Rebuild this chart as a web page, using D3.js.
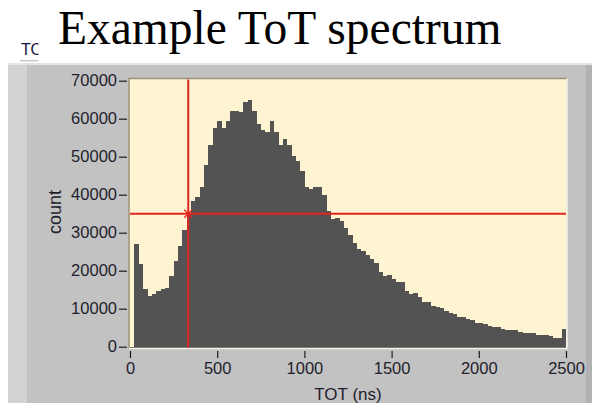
<!DOCTYPE html>
<html>
<head>
<meta charset="utf-8">
<script src="https://cdn.jsdelivr.net/npm/d3@7"></script>
<style>
  html, body { margin: 0; padding: 0; background: #fff; }
  svg { display: block; }
</style>
</head>
<body>
<div id="chart"></div>
<script>
// histogram of TOT values, 25 ns bins from 0 to 2500
var binWidth = 25;
var counts = [
  0, 26950, 21760, 15260, 13420, 13780, 14570, 15100, 15450, 18520,
  22470, 26500, 30800, 35100, 38340, 39470, 41940, 47740, 53000, 57630,
  59400, 57630, 59470, 62030, 62030, 61680, 64310, 64840, 62030, 58520,
  57030, 56500, 59310, 56500, 53000, 54580, 53000, 50180, 48950, 46320,
  42110, 41420, 41950, 41950, 39840, 35630, 33610, 33950, 33160, 31150,
  29310, 27210, 25630, 25260, 24050, 23160, 22110, 19660, 18600, 18950,
  17740, 16950, 16950, 14580, 13790, 14210, 13000, 11760, 11760, 10710,
  10450, 10100, 9390, 8790, 8690, 7900, 7900, 7370, 6930, 6320,
  6320, 5880, 5450, 5100, 5100, 4660, 4300, 4300, 4300, 3950,
  3600, 3600, 3600, 3080, 3080, 3080, 2720, 2370, 2370, 4740
];
var xTicks = [0, 500, 1000, 1500, 2000, 2500];
var yTicks = [0, 10000, 20000, 30000, 40000, 50000, 60000, 70000];
// cursor position (ns, count)
var cursor = { x: 334, y: 35000 };

var width = 592, height = 403;
var svg = d3.select("#chart").append("svg")
  .attr("width", width)
  .attr("height", height);

var x = d3.scaleLinear().domain([0, 2500]).range([130, 566]);
var y = d3.scaleLinear().domain([0, 70000]).range([346.7, 80.7]);

//title
svg.append("text")
  .attr("x", 58)
  .attr("y", 43.5)
  .attr("font-family", "Liberation Serif, Times New Roman, serif")
  .attr("font-size", 47.5)
  .attr("fill", "#000")
  .text("Example ToT spectrum");

//graph label, cut off by the title box
svg.append("clipPath").attr("id", "lblclip")
  .append("rect").attr("x", 0).attr("y", 30).attr("width", 38.5).attr("height", 40);
svg.append("text")
  .attr("x", 21)
  .attr("y", 55)
  .attr("clip-path", "url(#lblclip)")
  .attr("font-family", "Liberation Sans, Arial, sans-serif")
  .attr("font-size", 16)
  .attr("fill", "#14143c")
  .text("TO");
svg.append("rect")
  .attr("x", 20).attr("y", 60).attr("width", 18.5).attr("height", 1.5)
  .attr("fill", "#c8c8c8");

//outer gray panel
svg.append("rect")
  .attr("x", 8).attr("y", 63).attr("width", 584).attr("height", 340)
  .attr("fill", "#c2c2c2");
svg.append("rect")
  .attr("x", 8).attr("y", 63).attr("width", 584).attr("height", 2)
  .attr("fill", "#e4e4e4");
svg.append("rect")
  .attr("x", 8).attr("y", 65).attr("width", 19).attr("height", 338)
  .attr("fill", "#d2d2d2");
svg.append("rect")
  .attr("x", 586).attr("y", 65).attr("width", 6).attr("height", 338)
  .attr("fill", "#b2b2b2");

//plot area
var plot = { x0: 129, x1: 567, y0: 78.5, y1: 348.5 };
svg.append("rect")
  .attr("x", plot.x0).attr("y", plot.y0)
  .attr("width", plot.x1 - plot.x0).attr("height", plot.y1 - plot.y0)
  .attr("fill", "#fef4d2");

//bars
svg.append("g")
  .selectAll("rect")
  .data(counts)
  .join("rect")
  .attr("x", (d, i) => x(i * binWidth))
  .attr("width", (d, i) => x((i + 1) * binWidth) - x(i * binWidth) + 0.3)
  .attr("y", (d) => y(d))
  .attr("height", (d) => y(0) - y(d) + 1.5)
  .attr("fill", "#535353")
  .attr("shape-rendering", "crispEdges");

//sunken border of plot area
svg.append("path")
  .attr("d", `M${plot.x0},${plot.y1}V${plot.y0}H${plot.x1}`)
  .attr("fill", "none").attr("stroke", "#9a927a").attr("stroke-width", 1.5);
svg.append("path")
  .attr("d", `M${plot.x0},${plot.y1}H${plot.x1}V${plot.y0}`)
  .attr("fill", "none").attr("stroke", "#f6f2e6").attr("stroke-width", 1.5);

//cursor
var cx = x(cursor.x), cy = y(cursor.y);
svg.append("line")
  .attr("x1", cx).attr("x2", cx).attr("y1", plot.y0 + 1).attr("y2", plot.y1 - 1)
  .attr("stroke", "#e2261e").attr("stroke-width", 2);
svg.append("line")
  .attr("x1", plot.x0 + 1).attr("x2", plot.x1 - 1).attr("y1", cy).attr("y2", cy)
  .attr("stroke", "#e2261e").attr("stroke-width", 2);
svg.append("path")
  .attr("d", `M${cx - 4},${cy - 4}L${cx + 4},${cy + 4}M${cx - 4},${cy + 4}L${cx + 4},${cy - 4}`)
  .attr("stroke", "#e2261e").attr("stroke-width", 1.3);

//axes
var tickFont = "Liberation Sans, Arial, sans-serif";
var yAxis = svg.append("g")
  .attr("transform", "translate(127,0)")
  .call(d3.axisLeft(y).tickValues(yTicks).tickSize(8).tickPadding(2).tickFormat(d3.format("d")));
var xAxis = svg.append("g")
  .attr("transform", "translate(0,351)")
  .call(d3.axisBottom(x).tickValues(xTicks).tickSize(7).tickPadding(4).tickFormat(d3.format("d")));
[xAxis, yAxis].forEach((a) => {
  a.select(".domain").remove();
  a.selectAll(".tick line").attr("stroke", "#1c1c1c").attr("stroke-width", 1.2);
  a.selectAll(".tick text")
    .attr("font-family", tickFont)
    .attr("font-size", 16.5)
    .attr("fill", "#1e1e2c");
});

//axis titles
svg.append("text")
  .attr("transform", "translate(61,212) rotate(-90)")
  .attr("text-anchor", "middle")
  .attr("font-family", tickFont)
  .attr("font-size", 18)
  .attr("fill", "#1e1e2c")
  .text("count");
svg.append("text")
  .attr("x", 348)
  .attr("y", 400)
  .attr("text-anchor", "middle")
  .attr("font-family", tickFont)
  .attr("font-size", 17)
  .attr("fill", "#1e1e2c")
  .text("TOT (ns)");
</script>
</body>
</html>
